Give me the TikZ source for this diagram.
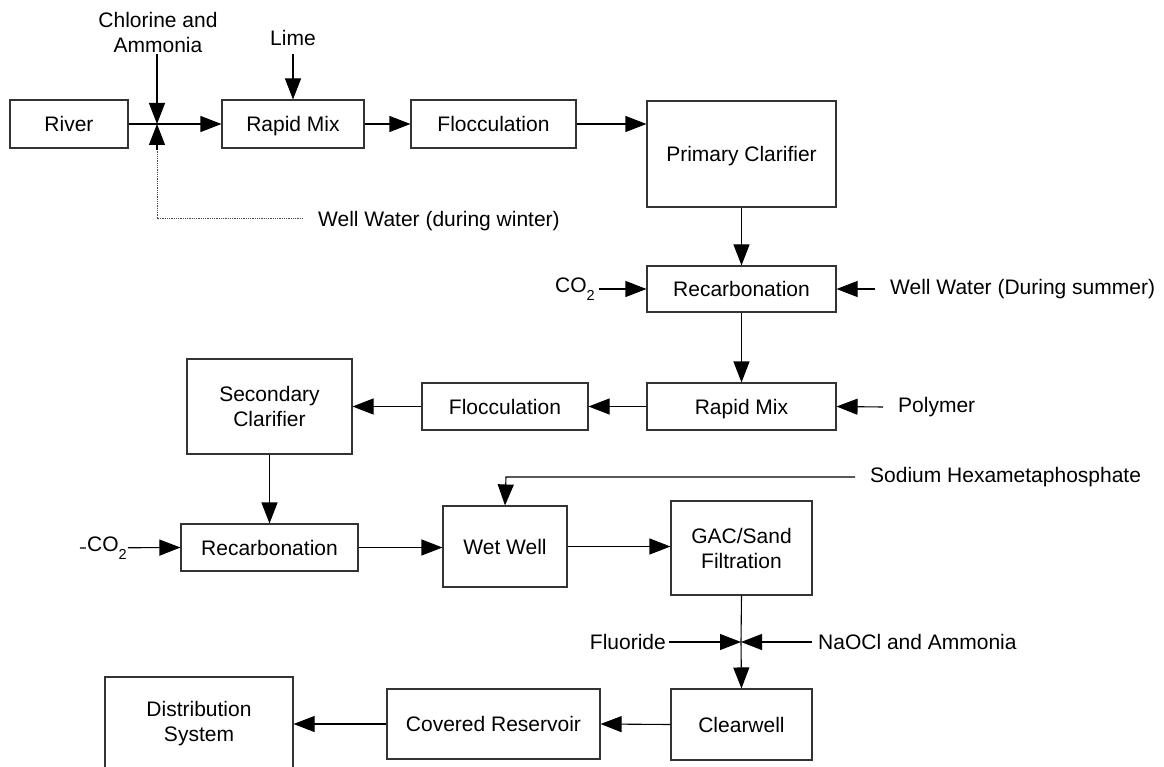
\documentclass[tikz,border=0pt]{standalone}
\usepackage{fontspec}
\setmainfont{Liberation Sans}
\usetikzlibrary{arrows.meta}
\newcommand{\cotwo}{CO\raisebox{-0.35em}{\fontsize{14.5}{14.5}\selectfont 2}}
\begin{document}
\begin{tikzpicture}[x=1pt,y=-1pt,
  box/.style={draw=black!80,line width=1.1pt,inner sep=0pt,align=center,font=\fontsize{21}{25}\selectfont},
  one/.style={text height=15pt,text depth=0pt},
  lbl/.style={inner sep=0pt,align=center,font=\fontsize{21}{25}\selectfont},
  flow/.style={line width=1.1pt,-{Triangle[length=21pt,width=16pt]}},
  plain/.style={line width=1.1pt},
  dots/.style={black!70,line width=0.8pt,dash pattern=on 1pt off 0.8pt}]
\useasboundingbox (0,0) rectangle (1164,767);
% boxes
\node[box,one,minimum width=118pt,minimum height=48pt] (river) at (69,124) {River};
\node[box,one,minimum width=142pt,minimum height=48pt] (rm1) at (293,124) {Rapid Mix};
\node[box,one,minimum width=165pt,minimum height=48pt] (floc1) at (493.5,124) {Flocculation};
\node[box,one,minimum width=189pt,minimum height=106pt] (pc) at (741.5,154) {Primary Clarifier};
\node[box,one,minimum width=189pt,minimum height=46pt] (rc1) at (741.5,289) {Recarbonation};
\node[box,one,minimum width=189pt,minimum height=47pt] (rm2) at (741.5,406.5) {Rapid Mix};
\node[box,one,minimum width=166pt,minimum height=47pt] (floc2) at (505,406.5) {Flocculation};
\node[box,minimum width=165pt,minimum height=95pt] (sc) at (269.5,406.5) {Secondary\\Clarifier};
\node[box,one,minimum width=177pt,minimum height=47pt] (rc2) at (269.5,547.5) {Recarbonation};
\node[box,one,minimum width=124pt,minimum height=81pt] (ww) at (505,546.5) {Wet Well};
\node[box,minimum width=141pt,minimum height=94pt] (gac) at (741.5,548) {GAC/Sand\\Filtration};
\node[box,one,minimum width=141pt,minimum height=71pt] (cw) at (741.5,724.5) {Clearwell};
\node[box,one,minimum width=213pt,minimum height=70pt] (cr) at (493.5,724) {Covered Reservoir};
\node[box,minimum width=188pt,minimum height=94pt] (ds) at (199,724) {Distribution\\System};
% labels
\node[lbl] (cla) at (158,32) {Chlorine and\\Ammonia};
\node[lbl] (lime) at (293,38) {Lime};
\node[lbl,anchor=west] (wwin) at (318,221) {Well Water (during winter)};
\node[lbl,anchor=east] (co1) at (595,289) {\cotwo};
\node[lbl,anchor=west] (wsum) at (890,289) {Well Water (During summer)};
\node[lbl,anchor=west] (poly) at (898,407) {Polymer};
\node[lbl,anchor=west] (shmp) at (870,477) {Sodium Hexametaphosphate};
\node[lbl,anchor=east] (fl) at (666,642) {Fluoride};
\node[lbl,anchor=west] (naocl) at (818,642) {NaOCl and Ammonia};
% coordinates
\coordinate (j1) at (157,124);
\coordinate (j1t) at (157,54);
\coordinate (j1b) at (157,218);
\coordinate (j1a) at (157,150);
\coordinate (wwe) at (303,218);
\coordinate (limeb) at (293,54);
\coordinate (co1e) at (599,289);
\coordinate (wsume) at (875,289);
\coordinate (polye) at (883,407);
\coordinate (co2s) at (80,548);
\coordinate (shs) at (855,477);
\coordinate (shc) at (506,477);
\coordinate (j2) at (741,642);
\coordinate (fls) at (669,642);
\coordinate (nas) at (812,642);
% connectors
\draw[flow] (river.east) -- (rm1.west);
\draw[flow] (j1t) -- (j1);
\draw[dots] (wwe) -- (j1b) -- (j1a);
\draw[flow] (j1a) -- (j1);
\draw[flow] (limeb) -- (rm1.north);
\draw[flow] (rm1.east) -- (floc1.west);
\draw[flow] (floc1.east) -- (floc1.east -| pc.west);
\draw[flow] (pc.south) -- (rc1.north);
\draw[flow] (co1e) -- (rc1.west);
\draw[flow] (wsume) -- (rc1.east);
\draw[flow] (rc1.south) -- (rm2.north);
\draw[flow] (polye) -- (rm2.east);
\draw[flow] (rm2.west) -- (floc2.east);
\draw[flow] (floc2.west) -- (sc.east);
\draw[flow] (sc.south) -- (rc2.north);
\draw[flow] (co2s) -- (rc2.west);
\node[lbl,fill=white,inner xsep=1.5pt] (co2) at (107,548) {\cotwo};
\draw[flow] (rc2.east) -- (rc2.east -| ww.west);
\draw[flow] (shs) -- (shc) -- (ww.north);
\draw[flow] (ww.east) -- (ww.east -| gac.west);
\draw[plain] (gac.south) -- (j2);
\draw[flow] (j2) -- (cw.north);
\draw[flow] (fls) -- (j2);
\draw[flow] (nas) -- (j2);
\draw[flow] (cw.west) -- (cr.east);
\draw[flow] (cr.west) -- (ds.east);
\end{tikzpicture}
\end{document}
